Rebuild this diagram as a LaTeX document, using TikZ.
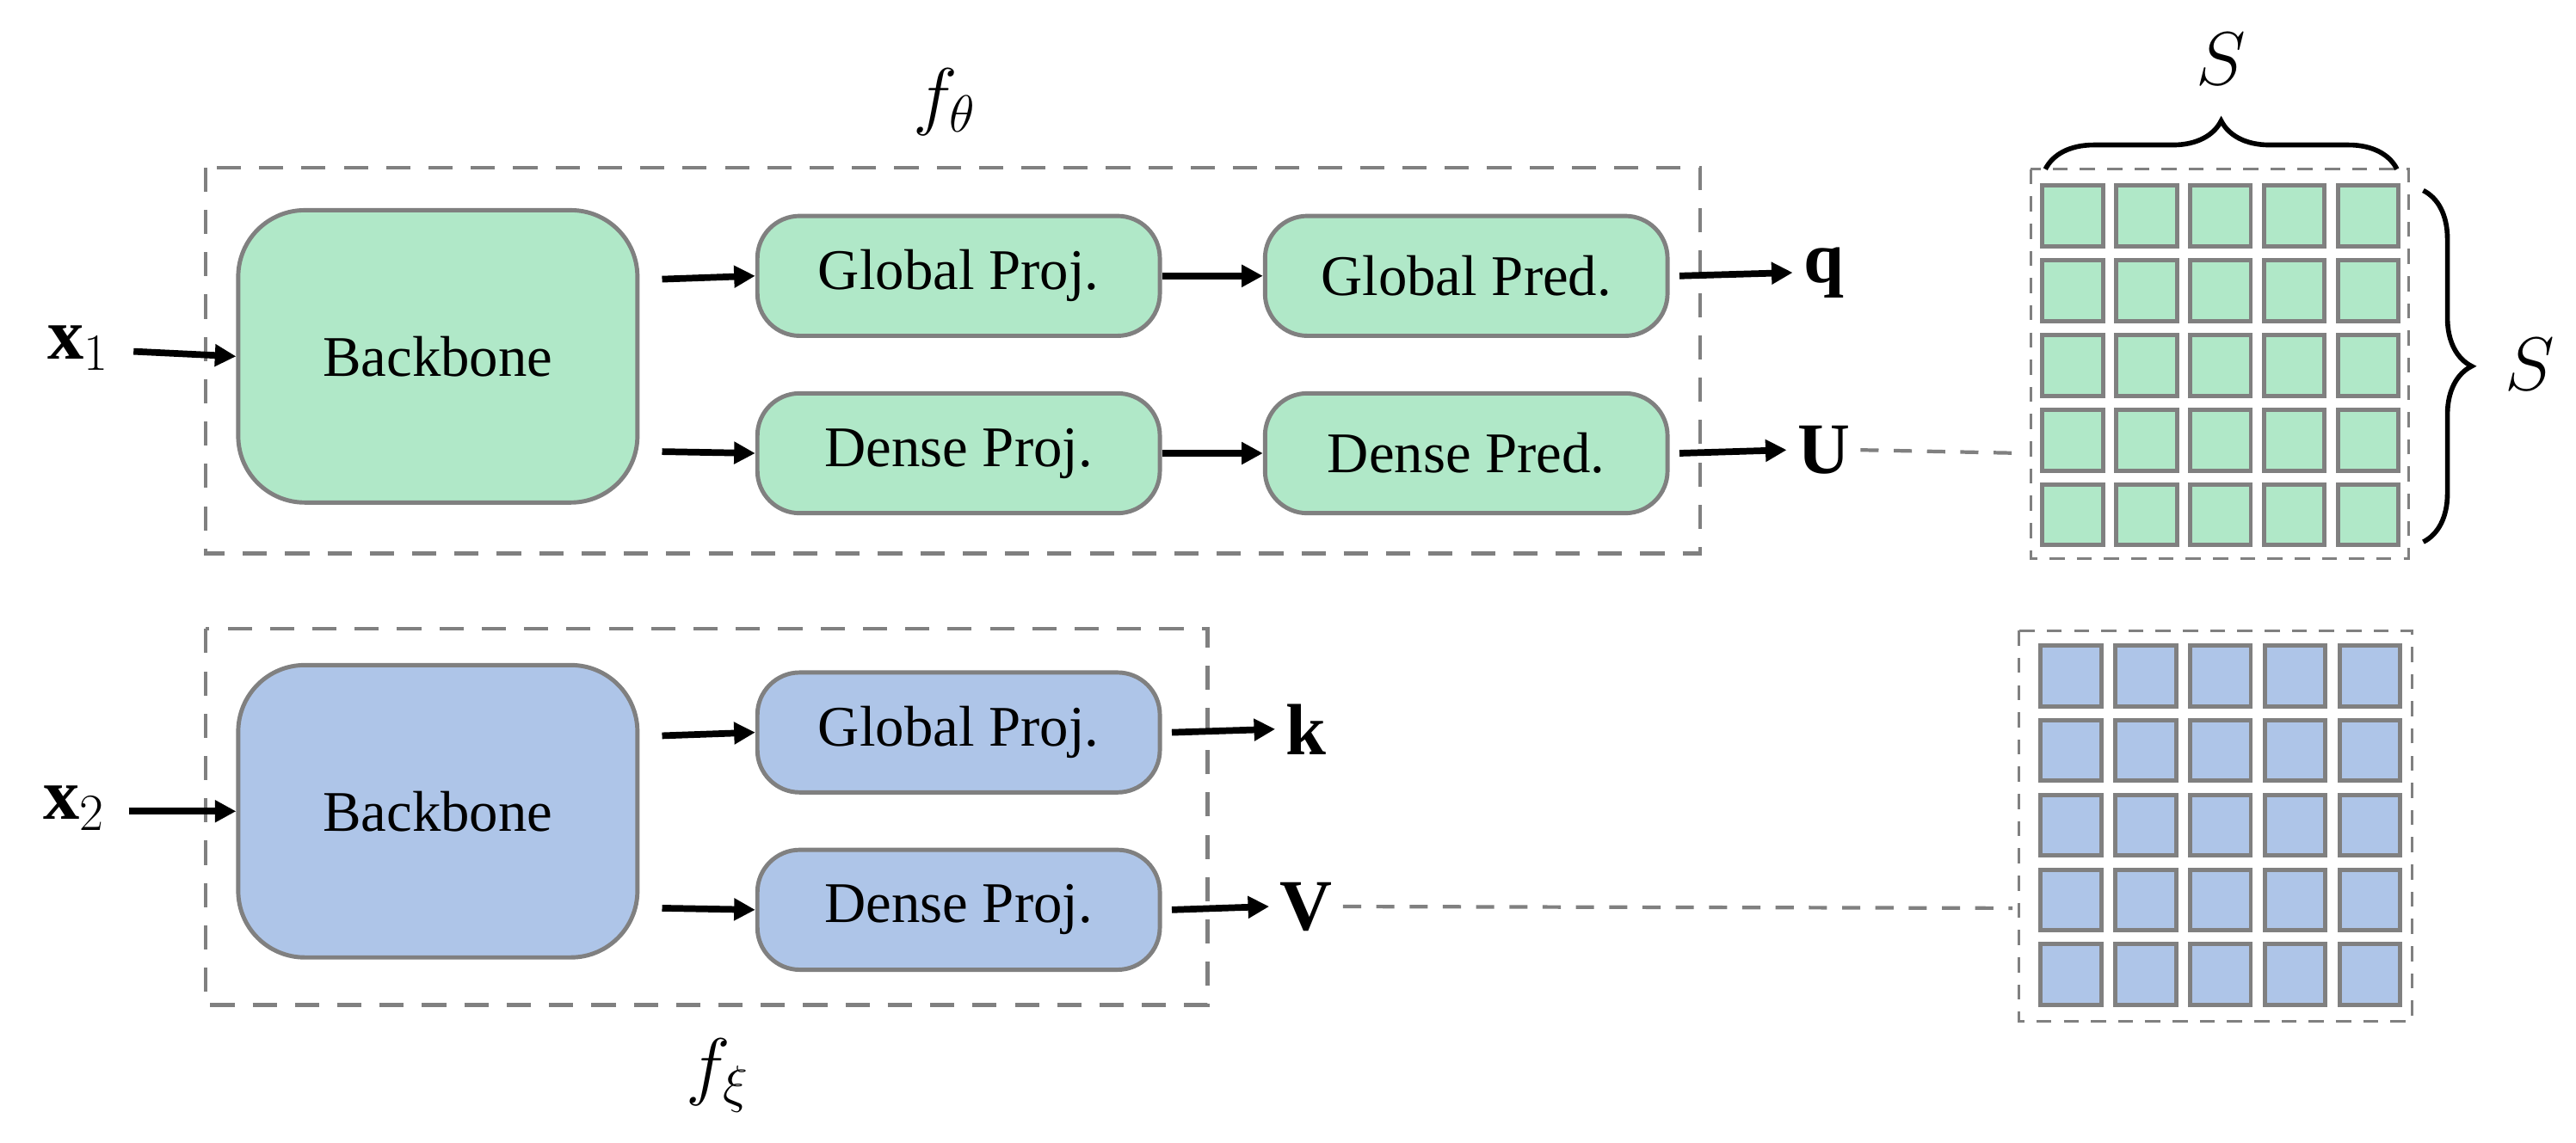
\documentclass[tikz,border=0pt]{standalone}
\usepackage{fontspec}
\setmainfont{Liberation Serif}
\usetikzlibrary{decorations.pathreplacing,arrows.meta}
\definecolor{gfill}{HTML}{B0E8C8}
\definecolor{bfill}{HTML}{AEC5E8}
\definecolor{bord}{HTML}{808080}
\begin{document}
\begin{tikzpicture}[x=0.019094cm,y=-0.019094cm,
  blk/.style={draw=bord,line width=1.4pt,rounded corners=14pt,inner sep=0pt,font=\fontsize{19}{21}\selectfont},
  bb/.style={blk,rounded corners=22pt,minimum width=243*0.019094cm,minimum height=178*0.019094cm},
  pj/.style={blk,minimum width=245*0.019094cm,minimum height=73*0.019094cm},
  ar/.style={-{Triangle[length=7pt,width=7pt]},line width=2.2pt},
  dbox/.style={draw=bord,dashed,line width=1.2pt,dash pattern=on 8pt off 6pt},
  dl/.style={draw=bord,line width=1.2pt,dash pattern=on 6pt off 5pt},
  mt/.style={font=\fontsize{24}{26}\selectfont},
  cell/.style={draw=bord,line width=1.4pt,minimum size=37*0.019094cm,inner sep=0pt},
  br/.style={decorate,decoration={brace,amplitude=16pt},line width=1.6pt}]
\useasboundingbox (0,0) rectangle (1568,696);
% top
\draw[dbox] (125,102) rectangle (1035,337);
\node[mt] (ft) at (575,62) {$f_\theta$};
\node[bb,fill=gfill] (b1) at (266.5,217) {Backbone};
\node[pj,fill=gfill] (gp1) at (583.5,168) {Global Proj.};
\node[pj,fill=gfill] (dp1) at (583.5,276) {Dense Proj.};
\node[pj,fill=gfill] (gr1) at (892.5,168) {Global Pred.};
\node[pj,fill=gfill] (dr1) at (892.5,276) {Dense Pred.};
\node[mt] (x1) at (48,212) {$\mathbf{x}_1$};
\node[mt] (q) at (1110,166) {$\mathbf{q}$};
\node[mt] (U) at (1110,274) {$\mathbf{U}$};
\coordinate (a1s) at (403,170); \coordinate (a2s) at (403,275);
\draw[ar] (x1.east)++(8,2) -- (b1.west);
\draw[ar] (a1s) -- (gp1.west);
\draw[ar] (a2s) -- (dp1.west);
\draw[ar] (gp1) -- (gr1);
\draw[ar] (dp1) -- (dr1);
\draw[ar] (gr1.east)++(6,0) -- (q.west);
\draw[ar] (dr1.east)++(6,0) -- (U.west);
% bottom
\draw[dbox] (125,383) rectangle (735,612);
\node[mt] (fx) at (437,655) {$f_\xi$};
\node[bb,fill=bfill] (b2) at (266.5,494) {Backbone};
\node[pj,fill=bfill] (gp2) at (583.5,446) {Global Proj.};
\node[pj,fill=bfill] (dp2) at (583.5,554) {Dense Proj.};
\node[mt] (x2) at (45,492) {$\mathbf{x}_2$};
\node[mt] (k) at (795,444) {$\mathbf{k}$};
\node[mt] (V) at (795,552) {$\mathbf{V}$};
\coordinate (c1s) at (403,448); \coordinate (c2s) at (403,553);
\draw[ar] (x2.east)++(8,2) -- (b2.west);
\draw[ar] (c1s) -- (gp2.west);
\draw[ar] (c2s) -- (dp2.west);
\draw[ar] (gp2.east)++(6,0) -- (k.west);
\draw[ar] (dp2.east)++(6,0) -- (V.west);
% grids
\draw[dbox,line width=0.9pt,dash pattern=on 5pt off 4pt] (1236,103) rectangle (1466,340);
\draw[dbox,line width=0.9pt,dash pattern=on 5pt off 4pt] (1229,384) rectangle (1468,622);
\foreach \i in {0,...,4}{\foreach \j in {0,...,4}{
  \node[cell,fill=gfill] (g\i\j) at (1261.5+45*\i,131.5+45.5*\j) {};
  \node[cell,fill=bfill] (h\i\j) at (1260.5+45.5*\i,411.5+45.5*\j) {};
}}
\coordinate (ge) at (1232,276);
\coordinate (he) at (1225,553);
\draw[dl] (U.east) -- (ge);
\draw[dl] (V.east) -- (he);
\coordinate (t1) at (1245,103); \coordinate (t2) at (1459,103);
\draw[br] (t1) -- (t2);
\node[mt] (s1) at (1352,36) {$S$};
\coordinate (r1) at (1475,116); \coordinate (r2) at (1475,330);
\draw[br] (r1) -- (r2);
\node[mt] (s2) at (1540,222) {$S$};
\end{tikzpicture}
\end{document}
